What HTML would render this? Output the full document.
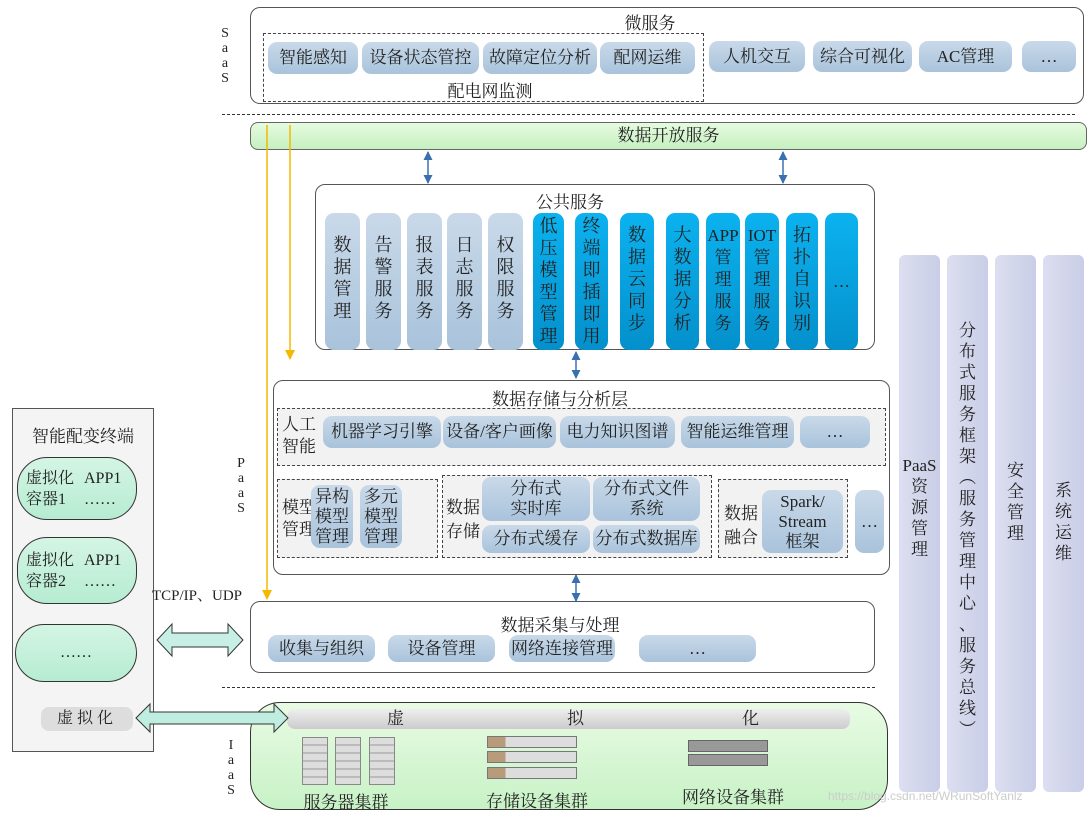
<!DOCTYPE html>
<html><head><meta charset="utf-8"><style>
body{margin:0;width:1091px;height:814px;background:#fff;position:relative;overflow:hidden;font-family:"Liberation Serif","Noto Serif CJK SC",serif;color:#222}
div{position:absolute;box-sizing:border-box}
.box{border:1px solid #555;border-radius:10px;background:#fff}
.dash{border:1.5px dashed #444;background:#f2f2f2}
.p{background:linear-gradient(#c9d9e9,#a9c3db);border-radius:9px;display:flex;align-items:center;justify-content:center;text-align:center;font-size:17px;line-height:20px;color:#222}
.v{flex-direction:column;justify-content:flex-start;font-size:18px;line-height:22px}
.b{background:linear-gradient(#0bb2ef,#0490cc)}
.t{font-size:17px;text-align:center;white-space:nowrap}
.col{background:linear-gradient(90deg,#dcdff0,#c9cde6);border-radius:6px;display:flex;justify-content:center;font-size:17px;line-height:21px;text-align:center}
.ov{background:linear-gradient(#d4f5e4,#b6ecd2);border:1px solid #333;border-radius:30px;display:flex;align-items:center;justify-content:center;font-size:16px}
</style></head><body>
<!-- SaaS -->
<div class="box" style="left:250px;top:7px;width:834px;height:97px"></div>
<div class="t" style="left:600px;top:9px;width:100px">微服务</div>
<div class="dash" style="left:263px;top:33px;width:441px;height:69px;background:none"></div>
<div class="p" style="left:268px;top:42px;width:90px;height:32px">智能感知</div>
<div class="p" style="left:362px;top:42px;width:117px;height:32px">设备状态管控</div>
<div class="p" style="left:483px;top:42px;width:114px;height:32px">故障定位分析</div>
<div class="p" style="left:600px;top:42px;width:95px;height:32px">配网运维</div>
<div class="t" style="left:430px;top:77px;width:120px">配电网监测</div>
<div class="p" style="left:709px;top:41px;width:96px;height:31px">人机交互</div>
<div class="p" style="left:813px;top:41px;width:99px;height:31px">综合可视化</div>
<div class="p" style="left:919px;top:41px;width:93px;height:31px">AC管理</div>
<div class="p" style="left:1022px;top:41px;width:54px;height:31px">…</div>
<div style="left:219px;top:26px;width:12px;font-size:14px;line-height:15px;text-align:center">S<br>a<br>a<br>S</div>
<div style="left:222px;top:114px;width:853px;border-top:1.5px dashed #333"></div>
<div style="left:250px;top:122px;width:837px;height:28px;background:linear-gradient(#e6fbe0,#c6f0c0);border:1px solid #666;border-radius:8px;text-align:center;font-size:17px;line-height:26px">数据开放服务</div>
<!-- public service -->
<div class="box" style="left:315px;top:184px;width:560px;height:166px"></div>
<div class="t" style="left:520px;top:188px;width:100px">公共服务</div>
<div class="p v" style="left:325px;top:213px;width:35px;height:137px;padding-top:21px">数<br>据<br>管<br>理</div>
<div class="p v" style="left:366px;top:213px;width:35px;height:137px;padding-top:21px">告<br>警<br>服<br>务</div>
<div class="p v" style="left:407px;top:213px;width:35px;height:137px;padding-top:21px">报<br>表<br>服<br>务</div>
<div class="p v" style="left:447px;top:213px;width:35px;height:137px;padding-top:21px">日<br>志<br>服<br>务</div>
<div class="p v" style="left:488px;top:213px;width:35px;height:137px;padding-top:21px">权<br>限<br>服<br>务</div>
<div class="p v b" style="left:533px;top:213px;width:31px;height:137px;padding-top:2px">低<br>压<br>模<br>型<br>管<br>理</div>
<div class="p v b" style="left:575px;top:213px;width:33px;height:137px;padding-top:2px">终<br>端<br>即<br>插<br>即<br>用</div>
<div class="p v b" style="left:620px;top:213px;width:34px;height:137px;padding-top:11px">数<br>据<br>云<br>同<br>步</div>
<div class="p v b" style="left:666px;top:213px;width:33px;height:137px;padding-top:11px">大<br>数<br>据<br>分<br>析</div>
<div class="p v b" style="left:706px;top:213px;width:34px;height:137px;padding-top:12px;font-size:17px">APP<br>管<br>理<br>服<br>务</div>
<div class="p v b" style="left:745px;top:213px;width:34px;height:137px;padding-top:12px;font-size:17px">IOT<br>管<br>理<br>服<br>务</div>
<div class="p v b" style="left:786px;top:213px;width:32px;height:137px;padding-top:11px">拓<br>扑<br>自<br>识<br>别</div>
<div class="p b" style="left:825px;top:213px;width:33px;height:137px">…</div>
<!-- storage -->
<div class="box" style="left:273px;top:380px;width:617px;height:195px"></div>
<div class="t" style="left:470px;top:385px;width:180px">数据存储与分析层</div>
<div class="dash" style="left:277px;top:408px;width:609px;height:58px"></div>
<div style="left:282px;top:414px;font-size:17px;line-height:22px">人工<br>智能</div>
<div class="p" style="left:323px;top:416px;width:118px;height:32px">机器学习引擎</div>
<div class="p" style="left:443px;top:416px;width:113px;height:32px">设备/客户画像</div>
<div class="p" style="left:560px;top:416px;width:115px;height:32px">电力知识图谱</div>
<div class="p" style="left:681px;top:416px;width:113px;height:32px">智能运维管理</div>
<div class="p" style="left:800px;top:416px;width:70px;height:32px">…</div>
<div class="dash" style="left:277px;top:479px;width:161px;height:79px"></div>
<div style="left:282px;top:497px;font-size:17px;line-height:22px">模型<br>管理</div>
<div class="p" style="left:311px;top:485px;width:42px;height:63px">异构<br>模型<br>管理</div>
<div class="p" style="left:360px;top:485px;width:42px;height:63px">多元<br>模型<br>管理</div>
<div class="dash" style="left:442px;top:475px;width:270px;height:83px"></div>
<div style="left:446px;top:496px;font-size:17px;line-height:24px">数据<br>存储</div>
<div class="p" style="left:482px;top:477px;width:108px;height:44px">分布式<br>实时库</div>
<div class="p" style="left:593px;top:477px;width:107px;height:44px">分布式文件<br>系统</div>
<div class="p" style="left:482px;top:525px;width:108px;height:28px">分布式缓存</div>
<div class="p" style="left:593px;top:525px;width:107px;height:28px">分布式数据库</div>
<div class="dash" style="left:718px;top:479px;width:130px;height:79px"></div>
<div style="left:724px;top:502px;font-size:17px;line-height:24px">数据<br>融合</div>
<div class="p" style="left:762px;top:490px;width:81px;height:63px">Spark/<br>Stream<br>框架</div>
<div class="p" style="left:855px;top:490px;width:29px;height:63px">…</div>
<!-- collection -->
<div class="box" style="left:250px;top:601px;width:625px;height:72px"></div>
<div class="t" style="left:480px;top:611px;width:160px">数据采集与处理</div>
<div class="p" style="left:268px;top:635px;width:107px;height:27px">收集与组织</div>
<div class="p" style="left:388px;top:635px;width:107px;height:27px">设备管理</div>
<div class="p" style="left:509px;top:635px;width:106px;height:27px">网络连接管理</div>
<div class="p" style="left:639px;top:635px;width:117px;height:27px">…</div>
<div style="left:235px;top:456px;width:12px;font-size:14px;line-height:15px;text-align:center">P<br>a<br>a<br>S</div>
<div style="left:222px;top:687px;width:653px;border-top:1.5px dashed #333"></div>
<!-- IaaS -->
<div style="left:250px;top:702px;width:638px;height:108px;background:linear-gradient(#e8fbe4,#c8f2c6);border:1px solid #333;border-radius:30px"></div>
<div style="left:287px;top:709px;width:563px;height:20px;background:linear-gradient(#eee,#ccc);border-radius:8px;font-size:17px;line-height:20px"><span style="position:absolute;left:100px">虚</span><span style="position:absolute;left:280px">拟</span><span style="position:absolute;left:455px">化</span></div>
<div style="left:225px;top:738px;width:12px;font-size:14px;line-height:15px;text-align:center">I<br>a<br>a<br>S</div>
<div style="left:302px;top:737px;width:26px;height:48px;background:repeating-linear-gradient(#ddd 0 6px,#bbb 6px 8px);border:1px solid #888"></div>
<div style="left:335px;top:737px;width:26px;height:48px;background:repeating-linear-gradient(#ddd 0 6px,#bbb 6px 8px);border:1px solid #888"></div>
<div style="left:369px;top:737px;width:26px;height:48px;background:repeating-linear-gradient(#ddd 0 6px,#bbb 6px 8px);border:1px solid #888"></div>
<div class="t" style="left:300px;top:788px;width:92px">服务器集群</div>
<div style="left:487px;top:736px;width:90px;height:12px;background:linear-gradient(90deg,#b89b7a 0 20%,#ddd 20%);border:1px solid #777"></div>
<div style="left:487px;top:751px;width:90px;height:12px;background:linear-gradient(90deg,#b89b7a 0 20%,#ddd 20%);border:1px solid #777"></div>
<div style="left:487px;top:767px;width:90px;height:12px;background:linear-gradient(90deg,#b89b7a 0 20%,#ddd 20%);border:1px solid #777"></div>
<div class="t" style="left:482px;top:787px;width:110px">存储设备集群</div>
<div style="left:688px;top:740px;width:80px;height:12px;background:#999;border:1px solid #666"></div>
<div style="left:688px;top:754px;width:80px;height:12px;background:#999;border:1px solid #666"></div>
<div class="t" style="left:678px;top:783px;width:110px">网络设备集群</div>
<div style="left:828px;top:789px;font-family:'Liberation Sans',sans-serif;font-size:12px;color:#ccc">https://blog.csdn.net/WRunSoftYanlz</div>
<!-- right columns -->
<div class="col" style="left:899px;top:255px;width:41px;height:537px;padding-top:200px">PaaS<br>资<br>源<br>管<br>理</div>
<div class="col" style="left:947px;top:255px;width:41px;height:537px;padding-top:65px">分<br>布<br>式<br>服<br>务<br>框<br>架<br>︵<br>服<br>务<br>管<br>理<br>中<br>心<br>、<br>服<br>务<br>总<br>线<br>︶</div>
<div class="col" style="left:995px;top:255px;width:41px;height:537px;padding-top:205px">安<br>全<br>管<br>理</div>
<div class="col" style="left:1043px;top:255px;width:41px;height:537px;padding-top:225px">系<br>统<br>运<br>维</div>
<!-- left terminal -->
<div style="left:12px;top:408px;width:142px;height:344px;border:1px solid #555;background:#f4f4f4"></div>
<div class="t" style="left:12px;top:422px;width:142px">智能配变终端</div>
<div class="ov" style="left:17px;top:457px;width:120px;height:63px;justify-content:flex-start;padding-left:8px;line-height:21px">虚拟化<br>容器1<span style="position:absolute;left:66px;top:10px;line-height:21px">APP1<br>……</span></div>
<div class="ov" style="left:17px;top:537px;width:120px;height:67px;justify-content:flex-start;padding-left:8px;line-height:21px">虚拟化<br>容器2<span style="position:absolute;left:66px;top:12px;line-height:21px">APP1<br>……</span></div>
<div class="ov" style="left:15px;top:624px;width:122px;height:58px">……</div>
<div style="left:41px;top:707px;width:92px;height:24px;background:#ddd;border-radius:8px;text-align:center;font-size:16px;line-height:24px;letter-spacing:4px">虚拟化</div>
<div style="left:152px;top:584px;font-size:15px">TCP/IP、UDP</div>
<svg style="position:absolute;left:0;top:0" width="1091" height="814">
<defs><marker id="a" markerUnits="userSpaceOnUse" markerWidth="9" markerHeight="9" refX="8" refY="4.5" orient="auto-start-reverse"><path d="M0,0L9,4.5L0,9z" fill="#3a70b0"/></marker>
<marker id="y" markerUnits="userSpaceOnUse" markerWidth="10" markerHeight="10" refX="9" refY="5" orient="auto"><path d="M0,0L10,5L0,10z" fill="#f5b800"/></marker></defs>
<g stroke="#3a70b0" stroke-width="1.5" marker-end="url(#a)" marker-start="url(#a)">
<line x1="428" y1="152" x2="428" y2="183"/>
<line x1="783" y1="152" x2="783" y2="183"/>
<line x1="576" y1="352" x2="576" y2="378"/>
<line x1="576" y1="575" x2="576" y2="601"/>
</g>
<g stroke="#f5b800" stroke-width="1.5" marker-end="url(#y)">
<line x1="267" y1="125" x2="267" y2="599"/>
<line x1="290" y1="125" x2="290" y2="359"/>
</g>
<path d="M157,640 L172,624 L172,633 L228,633 L228,624 L243,640 L228,656 L228,647 L172,647 L172,656 Z" fill="#c8efe4" stroke="#333"/>
<path d="M136,718 L150,704 L150,712 L274,712 L274,704 L288,718 L274,732 L274,724 L150,724 L150,732 Z" fill="#bfeee0" stroke="#333"/>
</svg>
</body></html>
